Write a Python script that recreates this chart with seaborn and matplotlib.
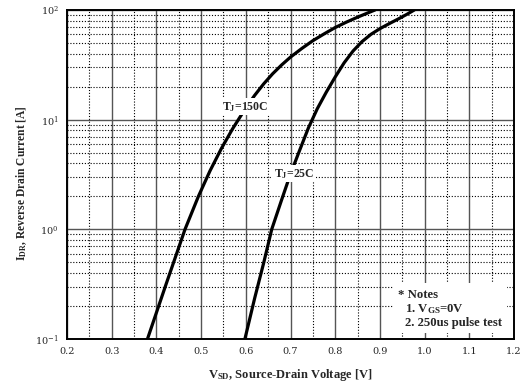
import matplotlib
matplotlib.use("Agg")
import matplotlib.pyplot as plt
from matplotlib.patches import Rectangle
from matplotlib.ticker import FixedLocator, NullFormatter
import numpy as np
import pandas as pd
import seaborn as sns

# Reverse diode forward characteristic: V_SD [V] vs I_DR [A]
v_150 = [0.380, 0.422, 0.464, 0.494, 0.520, 0.545, 0.570, 0.600, 0.620, 0.640,
         0.660, 0.680, 0.700, 0.725, 0.750, 0.775, 0.800, 0.825, 0.850, 0.870,
         0.889]
i_150 = [0.1, 0.319, 1.0, 2.0, 3.42, 5.42, 8.2, 12.8, 16.7, 21.2,
         26.2, 31.5, 37.2, 44.5, 52.5, 60.5, 69.2, 77.5, 86.0, 93.0,
         100.0]

v_25 = [0.598, 0.620, 0.640, 0.658, 0.680, 0.700, 0.720, 0.740, 0.760, 0.780,
        0.800, 0.820, 0.840, 0.860, 0.880, 0.900, 0.920, 0.940, 0.960, 0.977]
i_25 = [0.1, 0.237, 0.494, 1.0, 1.85, 3.2, 5.2, 8.4, 12.6, 17.8,
        24.5, 33.0, 42.3, 51.5, 60.0, 67.6, 74.8, 82.4, 91.2, 100.0]

x_ticks = [0.2, 0.3, 0.4, 0.5, 0.6, 0.7, 0.8, 0.9, 1.0, 1.1, 1.2]
x_tick_labels = ["0.2", "0.3", "0.4", "0.5", "0.6", "0.7", "0.8", "0.9", "1.0", "1.1", "1.2"]
y_ticks = [0.1, 1, 10, 100]
y_tick_labels = [r"$10^{-1}$", r"$10^{0}$", r"$10^{1}$", r"$10^{2}$"]

sns.set_style("white")
plt.rcParams["font.family"] = ["Liberation Serif", "DejaVu Serif"]
plt.rcParams["mathtext.fontset"] = "custom"
plt.rcParams["mathtext.rm"] = "DejaVu Serif"
plt.rcParams["mathtext.bf"] = "Liberation Serif:bold"
plt.rcParams["mathtext.it"] = "Liberation Serif:italic"

df150 = pd.DataFrame({"V": v_150, "I": i_150})
df25 = pd.DataFrame({"V": v_25, "I": i_25})

fig = plt.figure(figsize=(5.3, 3.87), dpi=100)
ax = fig.add_axes([67 / 530, 1 - 339 / 387, 447 / 530, 329 / 387])

sns.lineplot(data=df150, x="V", y="I", ax=ax, color="black", linewidth=2.3, zorder=3)
sns.lineplot(data=df25, x="V", y="I", ax=ax, color="black", linewidth=2.3, zorder=3)

ax.set_yscale("log")
ax.set_xlim(0.2, 1.2)
ax.set_ylim(0.1, 100)

ax.xaxis.set_major_locator(FixedLocator(x_ticks))
ax.set_xticklabels(x_tick_labels, family="DejaVu Serif")
ax.xaxis.set_minor_locator(FixedLocator(np.arange(0.25, 1.2, 0.1)))
ax.yaxis.set_major_locator(FixedLocator(y_ticks))
ax.set_yticklabels(y_tick_labels)
minor_y = [m * 10.0 ** e for e in (-1, 0, 1) for m in range(2, 10)]
ax.yaxis.set_minor_locator(FixedLocator(minor_y))
ax.yaxis.set_minor_formatter(NullFormatter())

ax.tick_params(which="both", length=0)
ax.tick_params(axis="x", labelsize=7, pad=6)
ax.tick_params(axis="y", labelsize=7, pad=6)

ax.grid(which="major", color="#555555", linewidth=1.0, linestyle="-", zorder=0.5)
ax.grid(which="minor", color="black", linewidth=0.8, linestyle=(0, (1, 1.6)), zorder=0.5)
ax.set_axisbelow(True)

for s in ax.spines.values():
    s.set_color("black")
    s.set_linewidth(1.4)
    s.set_visible(True)

ax.set_xlabel(r"$\mathbf{V_{SD}}$, Source-Drain Voltage [V]", fontsize=9, fontweight="bold", labelpad=8)
ax.set_ylabel(r"$\mathbf{I_{DR}}$, Reverse Drain Current [A]", fontsize=8.3, fontweight="bold")
ax.yaxis.set_label_coords(-0.085, 0.475)

label_box = dict(facecolor="white", edgecolor="none", pad=1.2)
ax.text(0.598, 13.1, r"$\mathbf{T_J}$=150C", fontsize=8.5, fontweight="bold",
        ha="center", va="center", bbox=label_box, zorder=4)
ax.text(0.708, 3.2, r"$\mathbf{T_J}$=25C", fontsize=8.5, fontweight="bold",
        ha="center", va="center", bbox=label_box, zorder=4)

# Notes panel in the lower right corner
ax.add_patch(Rectangle((0.730, 0.018), 0.255, 0.152, transform=ax.transAxes,
                       facecolor="white", edgecolor="none", zorder=1))
ax.text(0.741, 0.135, "* Notes", transform=ax.transAxes, fontsize=9.2,
        fontweight="bold", va="center", ha="left", zorder=4)
ax.text(0.756, 0.090, r"1. $\mathbf{V_{GS}}$=0V", transform=ax.transAxes, fontsize=9.2,
        fontweight="bold", va="center", ha="left", zorder=4)
ax.text(0.756, 0.048, "2. 250us pulse test", transform=ax.transAxes, fontsize=9.2,
        fontweight="bold", va="center", ha="left", zorder=4)

fig.savefig("out.png", dpi=100)
